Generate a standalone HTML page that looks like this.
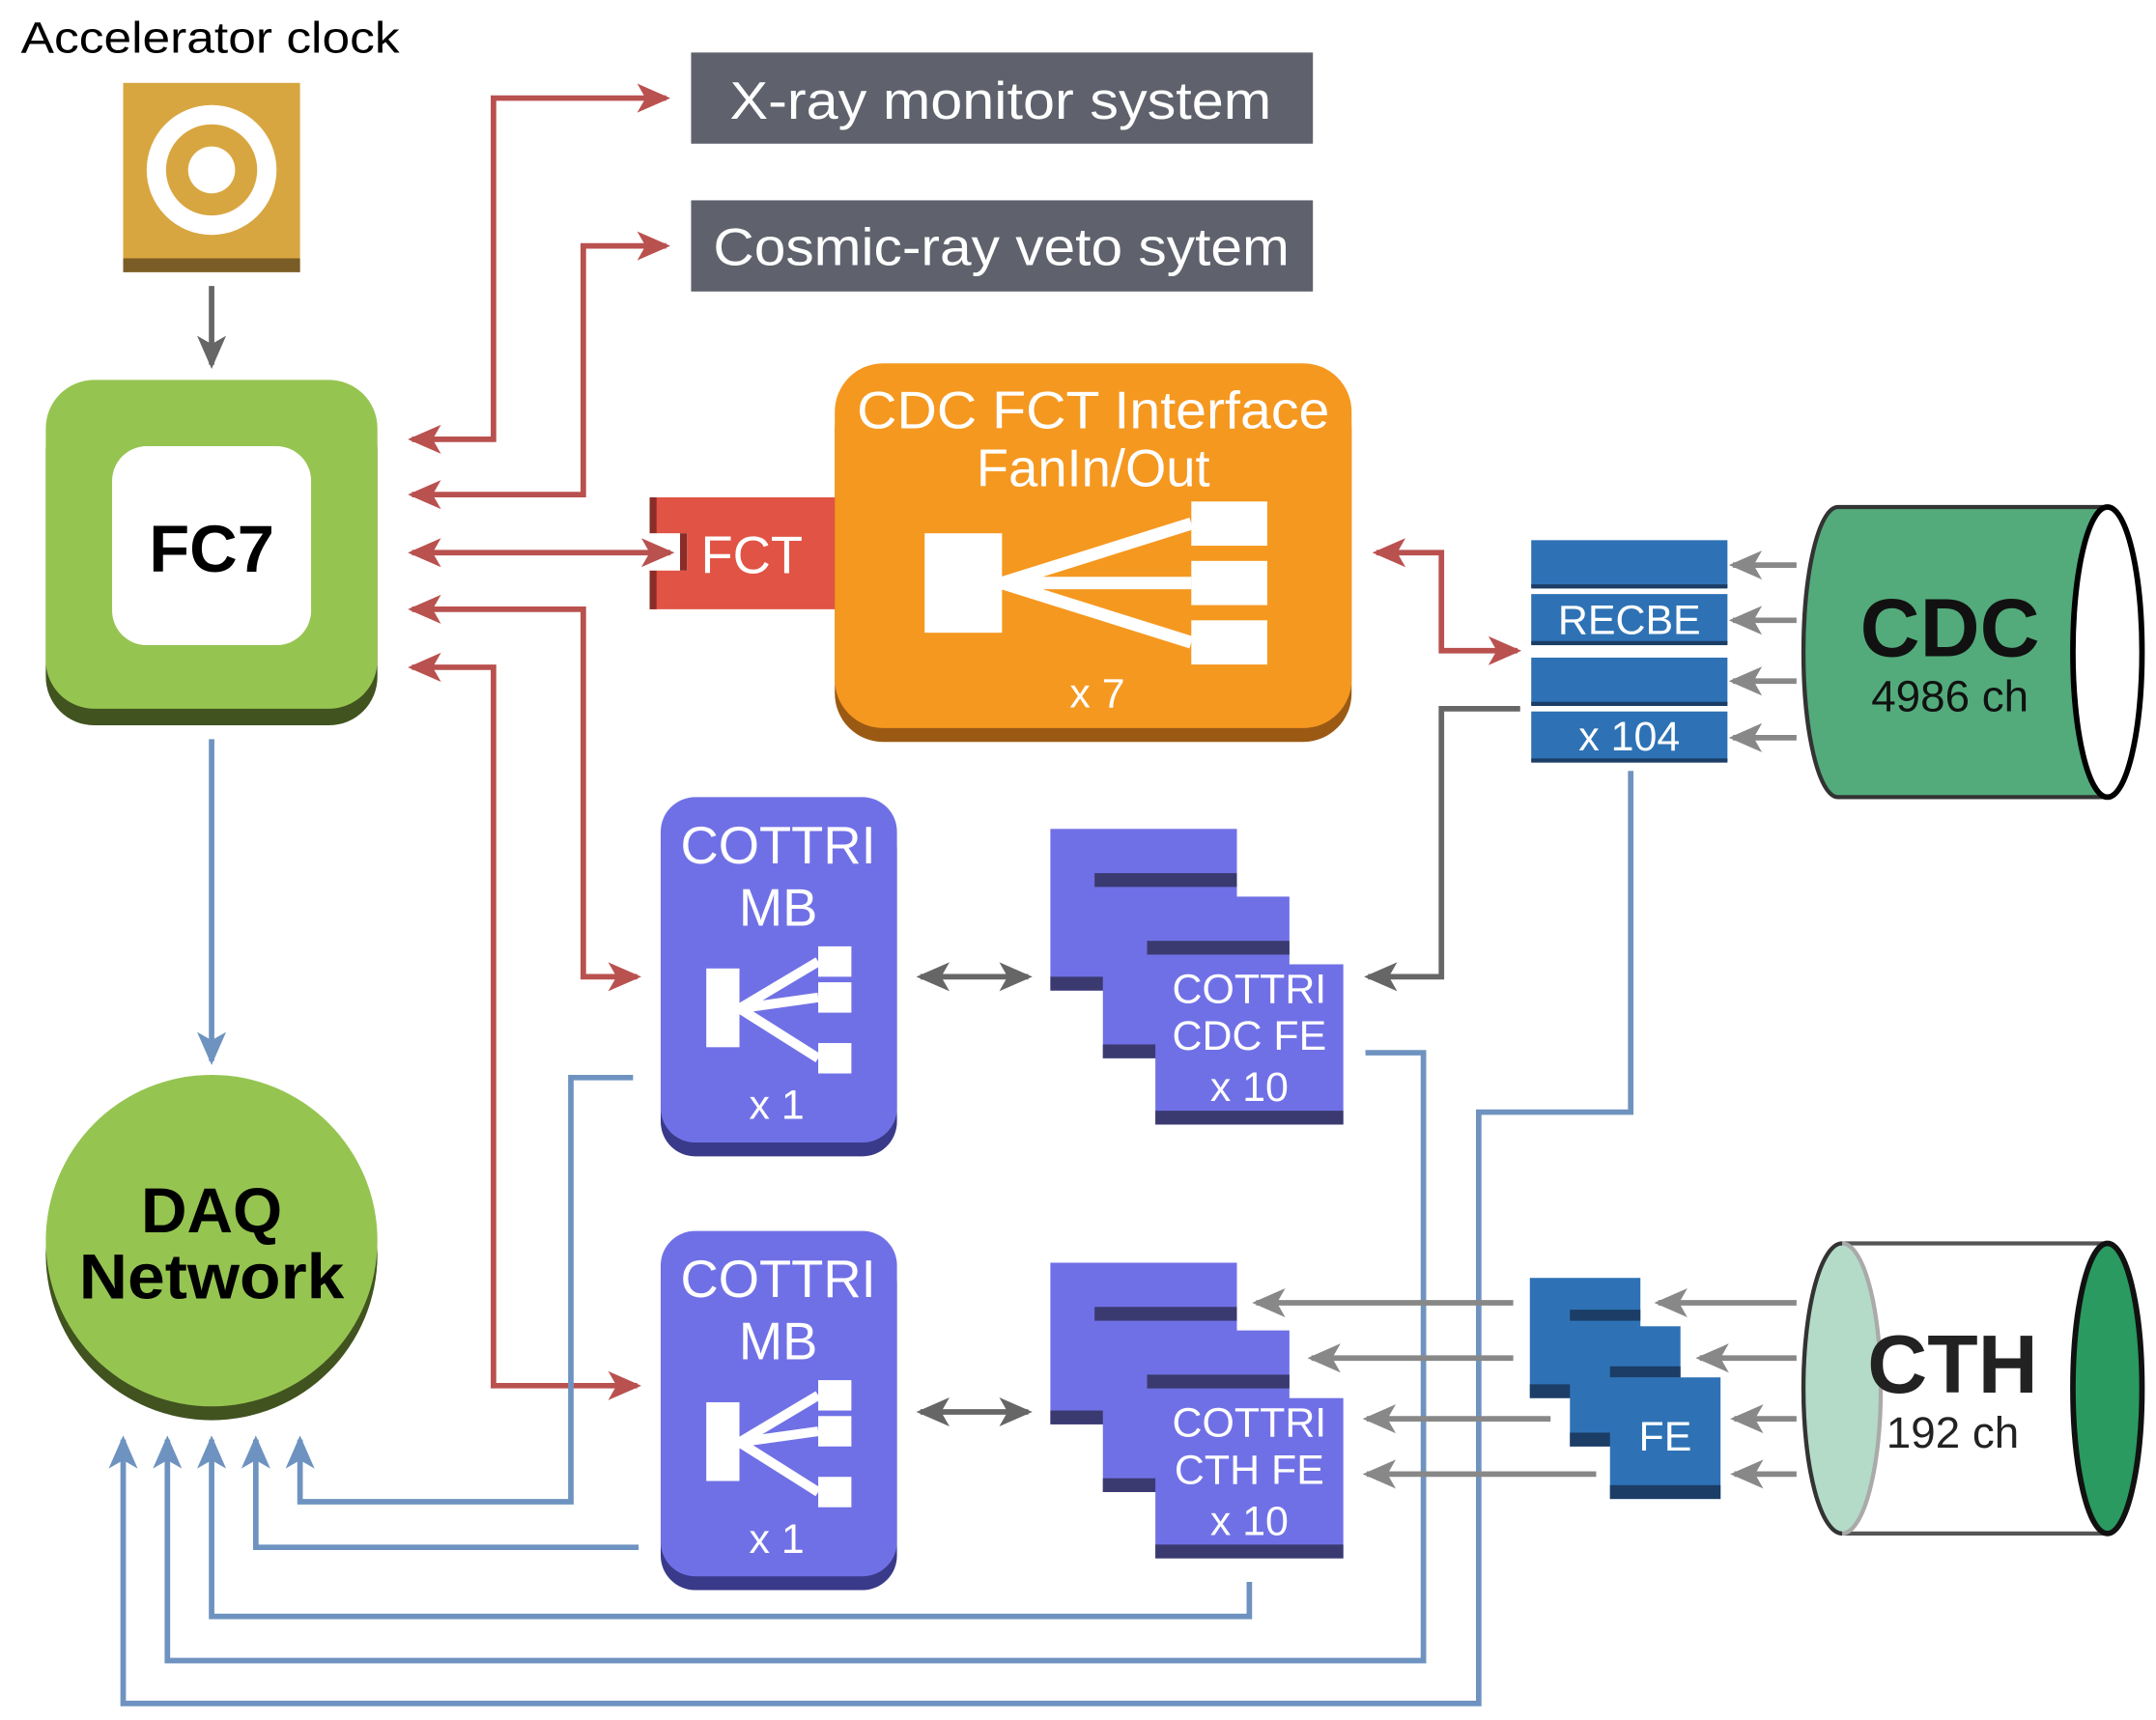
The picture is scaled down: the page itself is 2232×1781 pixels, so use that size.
<!DOCTYPE html>
<html><head><meta charset="utf-8"><style>html,body{margin:0;padding:0;background:#fff}svg{display:block}</style></head>
<body>
<svg width="2232" height="1781" viewBox="0 0 1560 1245" xmlns="http://www.w3.org/2000/svg" font-family="Liberation Sans, sans-serif">
<defs>
<marker id="r" markerWidth="24" markerHeight="24" refX="7" refY="4" orient="auto-start-reverse" markerUnits="userSpaceOnUse" viewBox="0 0 8 8"><path d="M0,0.5 L8,4 L0,7.5 L2,4z" fill="#b9514f"/></marker>
<marker id="g" markerWidth="24" markerHeight="24" refX="7" refY="4" orient="auto-start-reverse" markerUnits="userSpaceOnUse" viewBox="0 0 8 8"><path d="M0,0.5 L8,4 L0,7.5 L2,4z" fill="#666"/></marker>
<marker id="lg" markerWidth="24" markerHeight="24" refX="7" refY="4" orient="auto-start-reverse" markerUnits="userSpaceOnUse" viewBox="0 0 8 8"><path d="M0,0.5 L8,4 L0,7.5 L2,4z" fill="#888"/></marker>
<marker id="b" markerWidth="24" markerHeight="24" refX="7" refY="4" orient="auto-start-reverse" markerUnits="userSpaceOnUse" viewBox="0 0 8 8"><path d="M0,0.5 L8,4 L0,7.5 L2,4z" fill="#6f93c0"/></marker>
</defs>
<style>
.rl{fill:none;stroke:#b9514f;stroke-width:4}
.bl{fill:none;stroke:#6f93c0;stroke-width:4}
.gl{fill:none;stroke:#666;stroke-width:4}
.ll{fill:none;stroke:#888;stroke-width:4}
</style>
<text x="15" y="38" font-size="32" textLength="274" lengthAdjust="spacingAndGlyphs">Accelerator clock</text>
<rect x="89" y="60" width="128" height="137" fill="#d8a640"/>
<rect x="89" y="187" width="128" height="10" fill="#7a5c27"/>
<circle cx="153" cy="123" r="47" fill="#fff"/><circle cx="153" cy="123" r="33" fill="#d8a640"/><circle cx="153" cy="123" r="17" fill="#fff"/>
<line x1="153" y1="207" x2="153" y2="264" class="gl" marker-end="url(#g)"/>

<rect x="33" y="290" width="240" height="235" rx="35" fill="#41531f"/>
<rect x="33" y="275" width="240" height="238" rx="35" fill="#96c451"/>
<rect x="81" y="323" width="144" height="144" rx="25" fill="#fff"/>
<text x="153" y="414" font-size="48" font-weight="bold" text-anchor="middle">FC7</text>

<line x1="153" y1="535" x2="153" y2="768" class="bl" marker-end="url(#b)"/>
<circle cx="153" cy="908" r="120" fill="#41531f"/>
<circle cx="153" cy="898" r="120" fill="#96c451"/>
<text x="153" y="892" font-size="46" font-weight="bold" text-anchor="middle">DAQ</text>
<text x="153" y="940" font-size="46" font-weight="bold" text-anchor="middle" textLength="192" lengthAdjust="spacingAndGlyphs">Network</text>

<rect x="500" y="38" width="450" height="66" fill="#5f626c"/>
<text x="528" y="86" font-size="38" fill="#fff" textLength="392" lengthAdjust="spacingAndGlyphs">X-ray monitor system</text>
<rect x="500" y="145" width="450" height="66" fill="#5f626c"/>
<text x="516" y="192" font-size="38" fill="#fff" textLength="417" lengthAdjust="spacingAndGlyphs">Cosmic-ray veto sytem</text>

<polyline points="298,318 357,318 357,71 482,71" class="rl" marker-start="url(#r)" marker-end="url(#r)"/>
<polyline points="298,358 422,358 422,178 482,178" class="rl" marker-start="url(#r)" marker-end="url(#r)"/>
<polyline points="298,441 422,441 422,707 461,707" class="rl" marker-start="url(#r)" marker-end="url(#r)"/>
<polyline points="298,483 357,483 357,1003 461,1003" class="rl" marker-start="url(#r)" marker-end="url(#r)"/>

<rect x="470" y="360" width="140" height="81" fill="#e05345"/>
<rect x="470" y="360" width="5" height="81" fill="#8a2d28"/>
<rect x="470" y="386" width="27" height="27" fill="#fff"/>
<rect x="492" y="386" width="5" height="27" fill="#8a2d28"/>
<text x="507" y="415" font-size="38" fill="#fff">FCT</text>
<line x1="298" y1="400" x2="485" y2="400" class="rl" marker-start="url(#r)" marker-end="url(#r)"/>

<rect x="604" y="275" width="374" height="262" rx="35" fill="#9b5a14"/>
<rect x="604" y="263" width="374" height="264" rx="35" fill="#f59820"/>
<text x="620" y="310" font-size="38" fill="#fff" textLength="342" lengthAdjust="spacingAndGlyphs">CDC FCT Interface</text>
<text x="791" y="352" font-size="38" fill="#fff" text-anchor="middle">FanIn/Out</text>
<rect x="669" y="386" width="56" height="72" fill="#fff"/>
<rect x="862" y="363" width="55" height="32" fill="#fff"/><rect x="862" y="406" width="55" height="32" fill="#fff"/><rect x="862" y="449" width="55" height="32" fill="#fff"/>
<path d="M725,422 L862,379 M725,422 L862,422 M725,422 L862,465" stroke="#fff" stroke-width="9"/>
<text x="794" y="512" font-size="30" fill="#fff" text-anchor="middle">x 7</text>

<polyline points="996,400 1043,400 1043,471 1098,471" class="rl" marker-start="url(#r)" marker-end="url(#r)"/>

<g fill="#2e72b5">
<rect x="1108" y="391" width="142" height="34"/><rect x="1108" y="430" width="142" height="36"/><rect x="1108" y="476" width="142" height="34"/><rect x="1108" y="515" width="142" height="36"/>
</g>
<g fill="#1b3d66"><rect x="1108" y="423" width="142" height="3"/><rect x="1108" y="464" width="142" height="3"/><rect x="1108" y="508" width="142" height="3"/><rect x="1108" y="549" width="142" height="3"/></g>
<text x="1179" y="459" font-size="30" fill="#fff" text-anchor="middle">RECBE</text>
<text x="1179" y="543" font-size="30" fill="#fff" text-anchor="middle">x 104</text>
<g class="ll" marker-end="url(#lg)">
<line x1="1300" y1="409" x2="1254" y2="409"/><line x1="1300" y1="449" x2="1254" y2="449"/><line x1="1300" y1="493" x2="1254" y2="493"/><line x1="1300" y1="534" x2="1254" y2="534"/>
</g>
<path d="M1330,367 L1525,367 L1525,577 L1330,577 A25,105 0 0 1 1330,367z" fill="#53ab7b" stroke="#333" stroke-width="3"/>
<ellipse cx="1525" cy="472" rx="25" ry="105" fill="#fff" stroke="#000" stroke-width="4"/>
<text x="1411" y="475" font-size="60" font-weight="bold" text-anchor="middle" fill="#111">CDC</text>
<text x="1411" y="515" font-size="32" text-anchor="middle" fill="#111">4986 ch</text>

<polyline points="1100,513 1043,513 1043,707 990,707" class="gl" marker-end="url(#g)"/>
<polyline points="1180,558 1180,805 1070,805 1070,1233 89,1233 89,1042" class="bl" marker-end="url(#b)"/>

<g id="mb">
<rect x="478" y="589" width="171" height="248" rx="25" fill="#3a3a8a"/>
<rect x="478" y="577" width="171" height="250" rx="25" fill="#7070e6"/>
<text x="563" y="625" font-size="38" fill="#fff" text-anchor="middle">COTTRI</text>
<text x="563" y="670" font-size="38" fill="#fff" text-anchor="middle">MB</text>
<rect x="511" y="701" width="24" height="57" fill="#fff"/>
<rect x="592" y="685" width="24" height="22" fill="#fff"/><rect x="592" y="711" width="24" height="22" fill="#fff"/><rect x="592" y="755" width="24" height="22" fill="#fff"/>
<path d="M535,730 L592,696 M535,730 L592,722 M535,730 L592,766" stroke="#fff" stroke-width="7"/>
<text x="562" y="810" font-size="30" fill="#fff" text-anchor="middle">x 1</text>
</g>
<use href="#mb" transform="translate(0,314)"/>
<line x1="666" y1="707" x2="744" y2="707" class="gl" marker-start="url(#g)" marker-end="url(#g)"/>
<line x1="666" y1="1022" x2="744" y2="1022" class="gl" marker-start="url(#g)" marker-end="url(#g)"/>

<g id="fe1">
<rect x="760" y="600" width="135" height="117" fill="#7070e6"/><rect x="760" y="707" width="135" height="10" fill="#3a3a70"/>
<rect x="792" y="632" width="103" height="10" fill="#3a3a70"/>
<rect x="798" y="649" width="135" height="117" fill="#7070e6"/><rect x="798" y="756" width="135" height="10" fill="#3a3a70"/>
<rect x="830" y="681" width="103" height="10" fill="#3a3a70"/>
<rect x="836" y="698" width="136" height="116" fill="#7070e6"/><rect x="836" y="804" width="136" height="10" fill="#3a3a70"/>
</g>
<text x="904" y="726" font-size="30" fill="#fff" text-anchor="middle">COTTRI</text>
<text x="904" y="760" font-size="30" fill="#fff" text-anchor="middle">CDC FE</text>
<text x="904" y="797" font-size="30" fill="#fff" text-anchor="middle">x 10</text>
<use href="#fe1" transform="translate(0,314)"/>
<text x="904" y="1040" font-size="30" fill="#fff" text-anchor="middle">COTTRI</text>
<text x="904" y="1074" font-size="30" fill="#fff" text-anchor="middle">CTH FE</text>
<text x="904" y="1111" font-size="30" fill="#fff" text-anchor="middle">x 10</text>

<polyline points="458,780 413,780 413,1087 217,1087 217,1042" class="bl" marker-end="url(#b)"/>
<polyline points="462,1120 185,1120 185,1042" class="bl" marker-end="url(#b)"/>
<polyline points="904,1145 904,1170 153,1170 153,1042" class="bl" marker-end="url(#b)"/>
<polyline points="988,762 1030,762 1030,1202 121,1202 121,1042" class="bl" marker-end="url(#b)"/>

<g class="ll" marker-end="url(#lg)">
<line x1="1095" y1="943" x2="909" y2="943"/><line x1="1095" y1="983" x2="949" y2="983"/>
<line x1="1122" y1="1027" x2="989" y2="1027"/><line x1="1155" y1="1067" x2="989" y2="1067"/>
<line x1="1300" y1="943" x2="1200" y2="943"/><line x1="1300" y1="983" x2="1230" y2="983"/>
<line x1="1300" y1="1027" x2="1255" y2="1027"/><line x1="1300" y1="1067" x2="1255" y2="1067"/>
</g>
<rect x="1107" y="925" width="80" height="87" fill="#2e72b5"/><rect x="1107" y="1002" width="80" height="10" fill="#1b3d66"/>
<rect x="1136" y="948" width="51" height="8" fill="#1b3d66"/>
<rect x="1136" y="960" width="80" height="87" fill="#2e72b5"/><rect x="1136" y="1037" width="80" height="10" fill="#1b3d66"/>
<rect x="1165" y="989" width="51" height="8" fill="#1b3d66"/>
<rect x="1165" y="997" width="80" height="88" fill="#2e72b5"/><rect x="1165" y="1075" width="80" height="10" fill="#1b3d66"/>
<text x="1205" y="1050" font-size="30" fill="#fff" text-anchor="middle">FE</text>

<path d="M1333,900 L1525,900 L1525,1110 L1333,1110" fill="#fff" stroke="#555" stroke-width="3"/>
<ellipse cx="1333" cy="1005" rx="28" ry="105" fill="#b3dbc8" stroke="#aaa" stroke-width="3"/>
<path d="M1333,900 A28,105 0 0 0 1333,1110" fill="none" stroke="#333" stroke-width="3"/>
<ellipse cx="1525" cy="1005" rx="25" ry="105" fill="#2a9a60" stroke="#111" stroke-width="4"/>
<text x="1413" y="1008" font-size="60" font-weight="bold" text-anchor="middle" fill="#222">CTH</text>
<text x="1413" y="1048" font-size="32" text-anchor="middle" fill="#222">192 ch</text>
</svg>
</body></html>
